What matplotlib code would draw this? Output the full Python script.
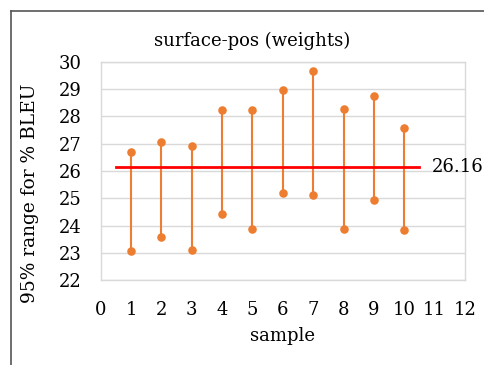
import matplotlib
matplotlib.use("Agg")
import matplotlib.pyplot as plt
from matplotlib.lines import Line2D

samples = [1, 2, 3, 4, 5, 6, 7, 8, 9, 10]
upper = [26.71, 27.06, 26.93, 28.24, 28.23, 28.95, 29.66, 28.26, 28.76, 27.59]
lower = [23.06, 23.60, 23.11, 24.43, 23.88, 25.20, 25.12, 23.88, 24.94, 23.84]
mean_value = 26.16
mean_span = [0.5, 10.5]
title = "surface-pos (weights)"
xlabel = "sample"
ylabel = "95% range for % BLEU"

plt.rcParams['font.family'] = ['DejaVu Serif']
fig = plt.figure(figsize=(4.85, 3.65), dpi=100)
ax = fig.add_axes([0.2076, 0.2321, 0.7512, 0.5989])

orange = "#ED7D31"
for x, lo, hi in zip(samples, lower, upper):
    ax.plot([x, x], [lo, hi], color=orange, lw=1.5, zorder=3)
ax.scatter(samples, upper, s=38, color=orange, zorder=4, linewidths=0)
ax.scatter(samples, lower, s=38, color=orange, zorder=4, linewidths=0)

ax.plot(mean_span, [mean_value, mean_value], color="#FF0000", lw=2, zorder=5)
ax.text(mean_span[1] + 0.4, mean_value, f"{mean_value:.2f}", va="center", ha="left",
        fontsize=13, clip_on=False)

ax.set_xlim(0, 12)
ax.set_ylim(22, 30)
ax.set_xticks(range(0, 13))
ax.set_yticks(range(22, 31))
ax.tick_params(axis='both', length=0, labelsize=13)
ax.tick_params(axis='x', pad=15)
ax.tick_params(axis='y', pad=14)
ax.grid(axis='y', color="#D9D9D9", lw=1)
ax.set_axisbelow(True)
for s in ax.spines.values():
    s.set_color("#D9D9D9")
    s.set_linewidth(1)

fig.text(252/485, 1 - 41/365, title, fontsize=13, ha="center", va="center")
ax.set_xlabel(xlabel, fontsize=13, labelpad=6)
fig.text(30/485, 1 - 193/365, ylabel, fontsize=13.4, rotation=90, ha="center", va="center")

fig.add_artist(Line2D([11/485, 11/485], [0, 1 - 11/365], color="#555555", lw=1.2, transform=fig.transFigure))
fig.add_artist(Line2D([11/485, 1], [1 - 11/365, 1 - 11/365], color="#555555", lw=1.2, transform=fig.transFigure))

fig.savefig("out.png", dpi=100)
